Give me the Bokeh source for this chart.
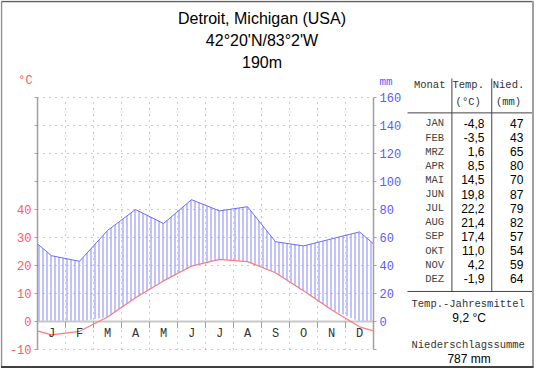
import numpy as np
from bokeh.plotting import figure
from bokeh.models import Range1d
from bokeh.core.properties import value
from bokeh.embed import file_html
from bokeh.resources import INLINE

# ---------------- data ----------------
title_lines = ["Detroit, Michigan (USA)", "42°20'N/83°2'W", "190m"]
month_letters = ["J", "F", "M", "A", "M", "J", "J", "A", "S", "O", "N", "D"]
month_names = ["JAN", "FEB", "MRZ", "APR", "MAI", "JUN", "JUL", "AUG", "SEP", "OKT", "NOV", "DEZ"]
temp = [-4.8, -3.5, 1.6, 8.5, 14.5, 19.8, 22.2, 21.4, 17.4, 11.0, 4.2, -1.9]
precip = [47, 43, 65, 80, 70, 87, 79, 82, 57, 54, 59, 64]
temp_ticks = [-10, 0, 10, 20, 30, 40, 50, 60, 70, 80]
temp_tick_labels = ["-10", "0", "10", "20", "30", "40", "", "", "", ""]
precip_ticks = [-20, 0, 20, 40, 60, 80, 100, 120, 140, 160]
precip_tick_labels = ["", "0", "20", "40", "60", "80", "100", "120", "140", "160"]

# ---------------- layout ----------------
W, H = 534, 368
FL, FR = 37, 373                         # diagram left / right (px)
FT, FB = 97, 349                         # diagram top (80 °C) / bottom (-10 °C)
PXM = (FR - FL) / 12                     # px per month
PXT = (FB - FT) / 90                     # px per °C

# table area is squeezed a little to fit the canvas
def tx(x): return 407 + (x - 407) * 0.906
def tyy(y): return 78 + (y - 78) * 0.955

MONO = "Liberation Mono"
SANS = "Liberation Sans"
RED = "#ff5a5a"
BLUE = "#5a5aff"
GRAY = "#a0a0a0"

p = figure(width=W, height=H, output_backend="svg", toolbar_location=None,
           x_range=Range1d(0, W), y_range=Range1d(H, 0),
           x_axis_location=None, y_axis_location=None, min_border=0)
p.outline_line_color = None
p.background_fill_color = "white"
p.border_fill_color = "white"
p.grid.visible = False

t_lo, t_hi = -10 - (H - FB) / PXT, 80 + FT / PXT
p.extra_x_ranges = {"mon": Range1d(-FL / PXM, 12 + (W - FR) / PXM)}
p.extra_y_ranges = {"t": Range1d(t_lo, t_hi), "mm": Range1d(2 * t_lo, 2 * t_hi)}
D = dict(x_range_name="mon", y_range_name="t")
DM = dict(x_range_name="mon", y_range_name="mm")

# ---------------- grid ----------------
bounds = np.arange(1, 12)
tt = np.array(temp_ticks, dtype=float)
p.segment(x0=bounds, y0=tt.min(), x1=bounds, y1=tt.max(), line_color="#999999",
          line_dash="1 5", line_width=1, **D)
p.segment(x0=0, y0=tt, x1=12, y1=tt, line_color="#999999",
          line_dash="1 5", line_width=1, **D)

# ---------------- curves ----------------
temp_a = np.array(temp, dtype=float)
prec_a = np.array(precip, dtype=float)
xs = np.concatenate([[0.0], np.arange(12) + 0.5, [12.0]])
t_edge = (temp_a[0] + temp_a[-1]) / 2
p_edge = (prec_a[0] + prec_a[-1]) / 2
ty = np.concatenate([[t_edge], temp_a, [t_edge]])
py = np.concatenate([[p_edge], prec_a, [p_edge]])

p.varea(x=xs, y1=np.maximum(ty * 2, 0), y2=py, fill_alpha=0,
        hatch_pattern="|", hatch_color="#8585ff", hatch_scale=4, hatch_weight=1, **DM)

# zero line and month ticks
p.segment(x0=0, y0=0, x1=12, y1=0, line_color="#c8c8c8", line_width=2, **D)
p.segment(x0=bounds, y0=0, x1=bounds, y1=-2.3, line_color=GRAY, line_width=1, **D)

p.line(xs, py, line_color="#6b6bff", line_width=1, **DM)
p.line(xs, ty, line_color="#ff7a7a", line_width=1.2, **D)

p.text(x=np.arange(12) + 0.5, y=-4.6, text=month_letters,
       text_font=value(MONO), text_font_size="12px", text_color="#333333",
       text_align="center", text_baseline="middle", **D)

# ---------------- axes ----------------
tick = 3 / PXM
p.segment(x0=0, y0=tt.min(), x1=0, y1=tt.max(), line_color=GRAY, line_width=1.5, **D)
p.segment(x0=0, y0=tt, x1=-tick, y1=tt, line_color=GRAY, line_width=1, **D)
p.text(x=0, y=tt, text=temp_tick_labels, x_offset=-6,
       text_font=value(MONO), text_font_size="12px", text_color=RED,
       text_align="right", text_baseline="middle", **D)

pt = np.array(precip_ticks, dtype=float)
p.segment(x0=12, y0=pt.min(), x1=12, y1=pt.max(), line_color=GRAY, line_width=1.5, **DM)
p.segment(x0=12, y0=pt, x1=12 + tick, y1=pt, line_color=GRAY, line_width=1, **DM)
p.text(x=12, y=pt, text=precip_tick_labels, x_offset=6,
       text_font=value(MONO), text_font_size="12px", text_color=BLUE,
       text_align="left", text_baseline="middle", **DM)

# ---------------- texts around ----------------
def txt(xr, yr, texts, size, font, color="#000000", align="center"):
    p.text(x=list(xr), y=list(yr), text=texts,
           text_font=value(font), text_font_size=size, text_color=color,
           text_align=align, text_baseline="middle")

def seg(x0, y0, x1, y1, color="#444444", width=1):
    p.segment(x0=x0, y0=y0, x1=x1, y1=y1, line_color=color, line_width=width)

txt([261.5] * 3, [18, 40, 61.5], title_lines, "16px", SANS)
txt([25], [80], ["°C"], "12px", MONO, RED)
txt([385.5], [81.5], ["mm"], "11px", MONO, BLUE)

# table
TM = "10.5px"
txt([tx(v) for v in [431.5, 474, 474, 518.5, 518.5]], [tyy(v) for v in [85, 85, 103, 85, 103]],
    ["Monat", "Temp.", "(°C)", "Nied.", "(mm)"], TM, MONO, "#333333")
rows = [tyy(125 + i * 14.8) for i in range(12)]
txt([tx(437)] * 12, rows, month_names, TM, MONO, "#444444")
txt([tx(492)] * 12, rows, [f"{v:.1f}".replace(".", ",") for v in temp], "12px", SANS, "#000000", "right")
txt([tx(535)] * 12, rows, [str(v) for v in precip], "12px", SANS, "#000000", "right")
seg(tx(456), tyy(78), tx(456), tyy(301))
seg(tx(500), tyy(78), tx(500), tyy(301))
seg(tx(407), tyy(114), W - 2, tyy(114))
seg(tx(407), tyy(301), W - 2, tyy(301))

mean_t = round(float(np.mean(temp_a)), 1)
sum_p = int(round(float(np.sum(prec_a))))
txt([tx(474)] * 2, [tyy(314), tyy(357)], ["Temp.-Jahresmittel", "Niederschlagssumme"], TM, MONO, "#333333")
txt([tx(475)] * 2, [tyy(329), tyy(372)], [f"{mean_t:.1f}".replace(".", ",") + " °C", f"{sum_p} mm"], "12px", SANS)

# outer frame
seg(0.5, 1, W - 1, 1, "#606060", 1.5)
seg(1, 0.5, 1, H - 1, "#909090", 1.5)
seg(W - 1.5, 0.5, W - 1.5, H - 1, "#a0a0a0", 2)
seg(0.5, H - 1.5, W - 1, H - 1.5, "#404040", 2)

open("out.html", "w").write(file_html(p, INLINE))
